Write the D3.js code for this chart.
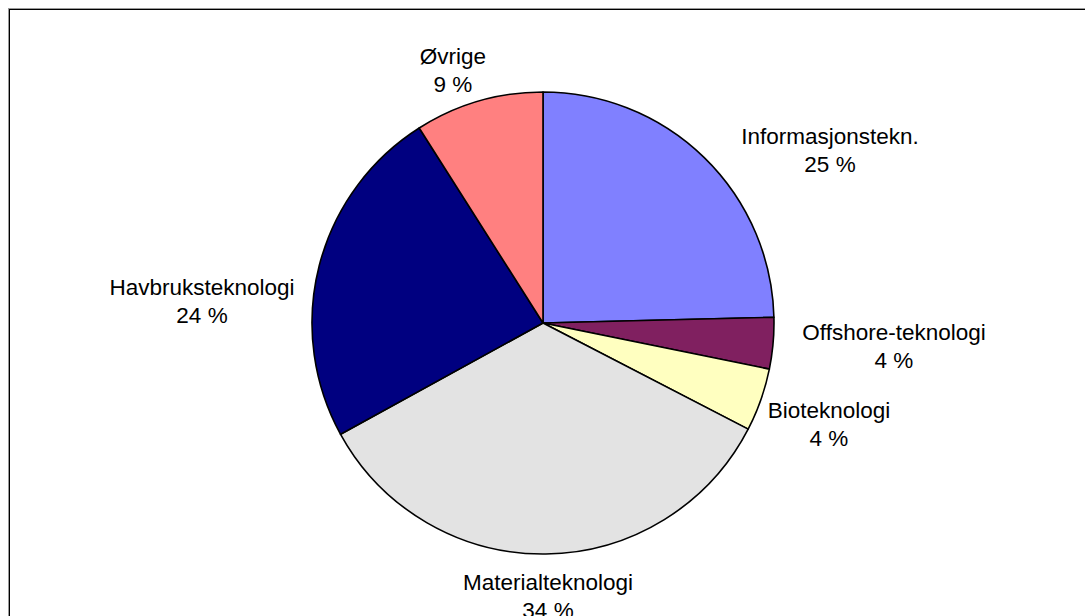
<!doctype html>
<html>
<head>
  <meta charset="utf-8" />
  <title>Fordeling etter teknologiområde</title>
  <script src="https://d3js.org/d3.v7.min.js"></script>
  <style>
    html, body { margin: 0; padding: 0; background: #fff; }
    svg { display: block; }
    .label { font-family: Arial, "Liberation Sans", sans-serif; font-size: 22.5px; fill: #000; }
  </style>
</head>
<body>
  <svg></svg>
  <script>
    // values (share in %), clockwise from 12 o'clock
    var categories = ["Informasjonstekn.", "Offshore-teknologi", "Bioteknologi", "Materialteknologi", "Havbruksteknologi", "Øvrige"];
    var shares = [24.6, 3.6, 4.4, 34.4, 24.0, 9.0];
    var shownPct = [25, 4, 4, 34, 24, 9];

    var colors = ["#8080ff", "#802060", "#ffffc0", "#e3e3e3", "#000080", "#ff8080"];

    // label first-baseline position relative to pie centre
    var labelOffset = [[287, -179], [351, 17], [286, 95], [5, 267], [-341, -28], [-90, -259]];

    var width = 1085, height = 616,
      cx = 543, cy = 323, radius = 231;

    var svg = d3.select("svg").attr("width", width).attr("height", height);

    // chart area frame (runs past the right and bottom edge)
    svg.append("rect")
      .attr("x", 8.5).attr("y", 8.5)
      .attr("width", width + 20).attr("height", height + 20)
      .attr("fill", "none").attr("stroke", "#9a9a9a").attr("stroke-width", 1);
    svg.append("rect")
      .attr("x", 9.5).attr("y", 9.5)
      .attr("width", width + 20).attr("height", height + 20)
      .attr("fill", "none").attr("stroke", "#000").attr("stroke-width", 1);

    var pie = d3.pie().sort(null).value(function(d) { return d; });
    var arc = d3.arc().innerRadius(0).outerRadius(radius);
    var arcs = pie(shares);

    var g = svg.append("g").attr("transform", "translate(" + cx + "," + cy + ")");

    g.selectAll("path.slice")
      .data(arcs)
      .enter()
      .append("path")
      .attr("class", "slice")
      .attr("d", arc)
      .attr("fill", function(d, i) { return colors[i]; })
      .attr("stroke", "#000")
      .attr("stroke-width", 1.6)
      .attr("stroke-linejoin", "round");

    var labels = g.selectAll("text.label")
      .data(arcs)
      .enter()
      .append("text")
      .attr("class", "label")
      .attr("text-anchor", "middle")
      .attr("transform", function(d, i) {
        return "translate(" + labelOffset[i][0] + "," + labelOffset[i][1] + ")";
      });

    labels.append("tspan")
      .attr("x", 0).attr("y", 0)
      .text(function(d, i) { return categories[i]; });
    labels.append("tspan")
      .attr("x", 0).attr("y", 28)
      .text(function(d, i) { return shownPct[i] + " %"; });
  </script>
</body>
</html>
